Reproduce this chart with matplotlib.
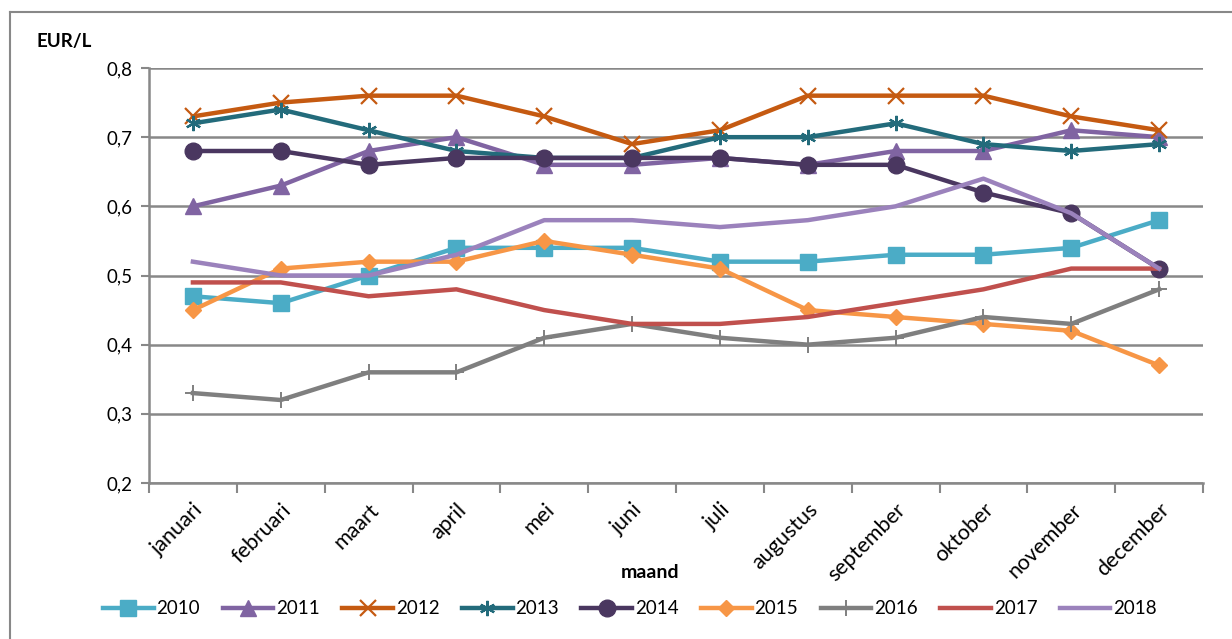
import numpy as np
import matplotlib.pyplot as plt
from matplotlib.lines import Line2D

plt.rcParams['font.family'] = ['Lato', 'DejaVu Sans']

months = ['januari', 'februari', 'maart', 'april', 'mei', 'juni', 'juli',
          'augustus', 'september', 'oktober', 'november', 'december']

y2010 = [0.47, 0.46, 0.50, 0.54, 0.54, 0.54, 0.52, 0.52, 0.53, 0.53, 0.54, 0.58]
y2011 = [0.60, 0.63, 0.68, 0.70, 0.66, 0.66, 0.67, 0.66, 0.68, 0.68, 0.71, 0.70]
y2012 = [0.73, 0.75, 0.76, 0.76, 0.73, 0.69, 0.71, 0.76, 0.76, 0.76, 0.73, 0.71]
y2013 = [0.72, 0.74, 0.71, 0.68, 0.67, 0.67, 0.70, 0.70, 0.72, 0.69, 0.68, 0.69]
y2014 = [0.68, 0.68, 0.66, 0.67, 0.67, 0.67, 0.67, 0.66, 0.66, 0.62, 0.59, 0.51]
y2015 = [0.45, 0.51, 0.52, 0.52, 0.55, 0.53, 0.51, 0.45, 0.44, 0.43, 0.42, 0.37]
y2016 = [0.33, 0.32, 0.36, 0.36, 0.41, 0.43, 0.41, 0.40, 0.41, 0.44, 0.43, 0.48]
y2017 = [0.49, 0.49, 0.47, 0.48, 0.45, 0.43, 0.43, 0.44, 0.46, 0.48, 0.51, 0.51]
y2018 = [0.52, 0.50, 0.50, 0.53, 0.58, 0.58, 0.57, 0.58, 0.60, 0.64, 0.59, 0.51]

years = ['2010', '2011', '2012', '2013', '2014', '2015', '2016', '2017', '2018']
series = [y2010, y2011, y2012, y2013, y2014, y2015, y2016, y2017, y2018]
colors = ['#4BACC6', '#8064A2', '#C55A11', '#236B7B', '#4A3760',
          '#F79646', '#7F7F7F', '#C0504D', '#9B82BC']
# marker, size, edge width
markers = [('s', 11, 1), ('^', 11, 1), ('x', 11, 1.6), ((6, 2, 0), 11, 1.6),
           ('o', 12, 1), ('D', 8, 1), ('+', 12, 1.4), (None, 0, 0), (None, 0, 0)]

fig = plt.figure(figsize=(12.32, 6.39), dpi=100)
ax = fig.add_axes([149 / 1232, 1 - 483 / 639, 1054 / 1232, 415 / 639])

x = np.arange(len(months)) + 0.5
for yr, vals, c, (m, ms, mew) in zip(years, series, colors, markers):
    ax.plot(x, vals, color=c, lw=3.2, marker=m, markersize=ms,
            markeredgewidth=mew, markeredgecolor=c, markerfacecolor=c,
            label=yr, zorder=3)

ax.set_xlim(0, 12)
ax.set_ylim(0.2, 0.8)
ax.set_yticks(np.arange(0.2, 0.81, 0.1))
ax.set_yticklabels([f'{v:.1f}'.replace('.', ',') for v in np.arange(0.2, 0.81, 0.1)])
ax.set_xticks(np.arange(0, 13))
ax.set_xticklabels([])
ax.set_xticks(x, minor=True)
ax.set_xticklabels(months, minor=True, rotation=45, ha='right',
                   rotation_mode='anchor', fontsize=15.5)
ax.tick_params(axis='x', which='minor', length=0, pad=12)
ax.tick_params(axis='x', which='major', length=7, width=1.5, color='#888888')
ax.tick_params(axis='y', length=6, width=1.5, color='#888888', labelsize=13.5, pad=6)

ax.grid(axis='y', color='#888888', lw=1.8)
ax.set_axisbelow(True)
for s in ['top', 'right']:
    ax.spines[s].set_visible(False)
for s in ['left', 'bottom']:
    ax.spines[s].set_color('#888888')
    ax.spines[s].set_linewidth(1.8)

fig.text(37 / 1232, 1 - 42 / 639, 'EUR/L', fontsize=13.5, fontweight='bold',
         va='center', ha='left')
fig.text(650 / 1232, 1 - 572 / 639, 'maand', fontsize=14, fontweight='bold',
         va='center', ha='center')

ax.legend(loc='center', bbox_to_anchor=((630 - 149) / 1054, (609 - 483) / -415),
          ncol=9, frameon=False, fontsize=13.5, handlelength=2.7,
          handletextpad=0.15, columnspacing=1.2, numpoints=1, markerscale=1.0)

# outer frame
fig.add_artist(Line2D([10 / 1232, 10 / 1232], [0, 1 - 12 / 639],
                      color='#888888', lw=1.5))
fig.add_artist(Line2D([10 / 1232, 1], [1 - 12 / 639, 1 - 12 / 639],
                      color='#888888', lw=1.5))

fig.savefig('out.png', dpi=100)
